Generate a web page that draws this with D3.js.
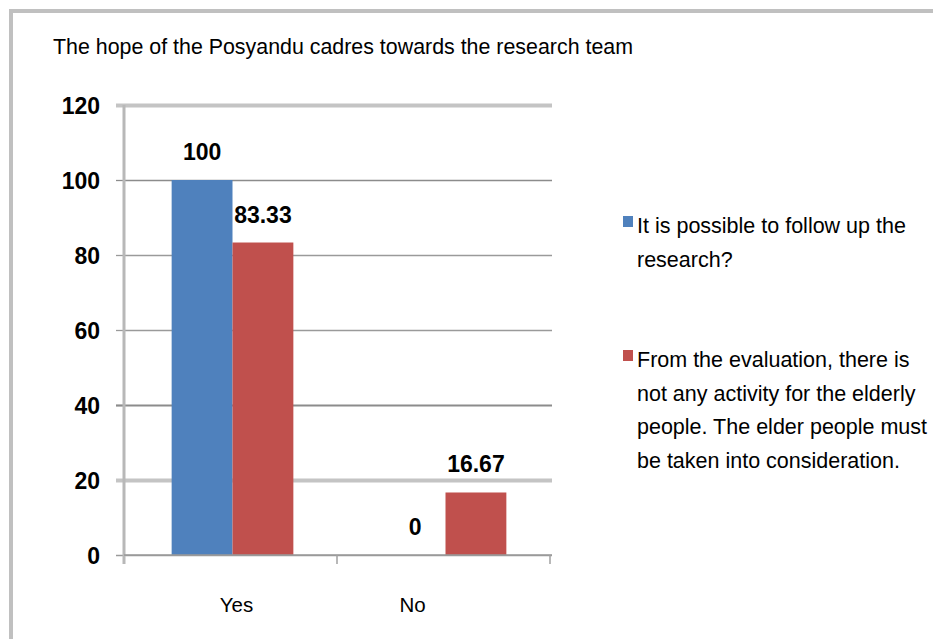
<!DOCTYPE html>
<html>
<head>
<meta charset="utf-8">
<script src="https://cdn.jsdelivr.net/npm/d3@7"></script>
<style>
  html, body { margin: 0; padding: 0; background: #fff; }
  svg { display: block; font-family: "Liberation Sans", Arial, sans-serif; }
</style>
</head>
<body>
<svg id="chart" width="933" height="639"></svg>
<script>
// ---- data ----
const title = "The hope of the Posyandu cadres towards the research team";
const categories = ["Yes", "No"];
const seriesNames = [
  "It is possible to follow up the research?",
  "From the evaluation, there is not any activity for the elderly people. The elder people must be taken into consideration."
];
const seriesFollowUp = [100, 0];
const seriesElderly = [83.33, 16.67];
const yTicks = [0, 20, 40, 60, 80, 100, 120];
const legendLines = [
  ["It is possible to follow up the", "research?"],
  ["From the evaluation, there is", "not any activity for the elderly", "people. The elder people must", "be taken into consideration."]
];
const colors = ["#4f81bd", "#c0504d"];
// gridline rendering (mimics the scaled screenshot's uneven line weights)
const gridStroke = { 0: ["#9a9a9a", 1.5], 20: ["#c4c4c4", 4], 40: ["#8c8c8c", 2.2], 60: ["#9a9a9a", 1.3], 80: ["#9a9a9a", 1.3], 100: ["#8c8c8c", 1.3], 120: ["#c4c4c4", 4] };

// ---- layout ----
const svg = d3.select("#chart");
const plot = { left: 124, right: 552, top: 105, bottom: 555 };

// frame
svg.append("rect")
  .attr("x", 11).attr("y", 11).attr("width", 1000).attr("height", 1000)
  .attr("fill", "#fff").attr("stroke", "#c0c0c0").attr("stroke-width", 4);

// title
svg.append("text")
  .attr("x", 53).attr("y", 54)
  .attr("font-size", 21.5).attr("fill", "#000")
  .attr("textLength", 580).attr("lengthAdjust", "spacingAndGlyphs")
  .text(title);

const y = d3.scaleLinear().domain([0, 120]).range([plot.bottom, plot.top]);
const x0 = d3.scaleBand().domain(categories).range([plot.left + 2, plot.right]).paddingInner(0).paddingOuter(0);
const x1 = d3.scaleBand().domain([0, 1]).range([0, x0.bandwidth()]).paddingInner(0).paddingOuter(0.75);

// gridlines + y axis labels
const yAxis = d3.axisLeft(y).tickValues(yTicks).tickSize(-(plot.right - plot.left)).tickFormat(d3.format("d"));
const gy = svg.append("g").attr("transform", `translate(${plot.left},0)`).call(yAxis);
gy.select(".domain").remove();
gy.selectAll(".tick line")
  .attr("stroke", d => gridStroke[d][0])
  .attr("stroke-width", d => gridStroke[d][1]);
gy.selectAll(".tick text")
  .attr("x", -24).attr("dy", "0.35em")
  .attr("font-size", 23).attr("font-weight", "bold")
  .attr("font-family", "Liberation Sans, Arial, sans-serif").attr("fill", "#000");
// outer tick marks on y axis
gy.selectAll(".tick").append("line")
  .attr("x1", -8).attr("x2", 0)
  .attr("stroke", d => gridStroke[d][0])
  .attr("stroke-width", d => gridStroke[d][1]);

// y axis line
svg.append("line")
  .attr("x1", plot.left).attr("x2", plot.left)
  .attr("y1", y(120)).attr("y2", y(0) + 9)
  .attr("stroke", "#b8b8b8").attr("stroke-width", 3);

// bars
const seriesData = [seriesFollowUp, seriesElderly];
const groups = svg.append("g").selectAll("g").data(categories).join("g")
  .attr("transform", d => `translate(${x0(d)},0)`);

groups.selectAll("rect")
  .data((c, ci) => seriesData.map((s, si) => ({ si, v: s[ci] })))
  .join("rect")
  .attr("x", d => x1(d.si))
  .attr("width", x1.bandwidth())
  .attr("y", d => y(d.v))
  .attr("height", d => y(0) - y(d.v))
  .attr("fill", d => colors[d.si]);

groups.selectAll("text.val")
  .data((c, ci) => seriesData.map((s, si) => ({ si, v: s[ci] })))
  .join("text")
  .attr("class", "val")
  .attr("x", d => x1(d.si) + x1.bandwidth() / 2)
  .attr("y", d => y(d.v) - 20)
  .attr("text-anchor", "middle")
  .attr("font-size", 23).attr("font-weight", "bold").attr("fill", "#000")
  .text(d => String(d.v));

// x axis line and ticks
svg.append("line")
  .attr("x1", plot.left).attr("x2", plot.right)
  .attr("y1", y(0)).attr("y2", y(0))
  .attr("stroke", "#9a9a9a").attr("stroke-width", 1.5);
const bounds = categories.map(c => x0(c) + x0.bandwidth());
svg.append("g").selectAll("line").data(bounds).join("line")
  .attr("x1", d => d - 2).attr("x2", d => d - 2)
  .attr("y1", y(0)).attr("y2", y(0) + 9)
  .attr("stroke", "#a0a0a0").attr("stroke-width", 1.5);

// category labels
const catOffsets = [4, -33];
svg.append("g").selectAll("text").data(categories).join("text")
  .attr("x", (d, i) => x0(d) + x0.bandwidth() / 2 + catOffsets[i])
  .attr("y", 612)
  .attr("text-anchor", "middle")
  .attr("font-size", 20.5).attr("fill", "#000")
  .text(d => d);

// legend
const legendTops = [233, 367];
const lg = svg.append("g");
legendLines.forEach((lines, i) => {
  lg.append("rect")
    .attr("x", 623).attr("y", legendTops[i] - 17)
    .attr("width", 10).attr("height", 11)
    .attr("fill", colors[i]);
  lines.forEach((ln, j) => {
    lg.append("text")
      .attr("x", 637).attr("y", legendTops[i] + j * 33.5)
      .attr("font-size", 21.5).attr("fill", "#000")
      .text(ln);
  });
});
</script>
</body>
</html>
